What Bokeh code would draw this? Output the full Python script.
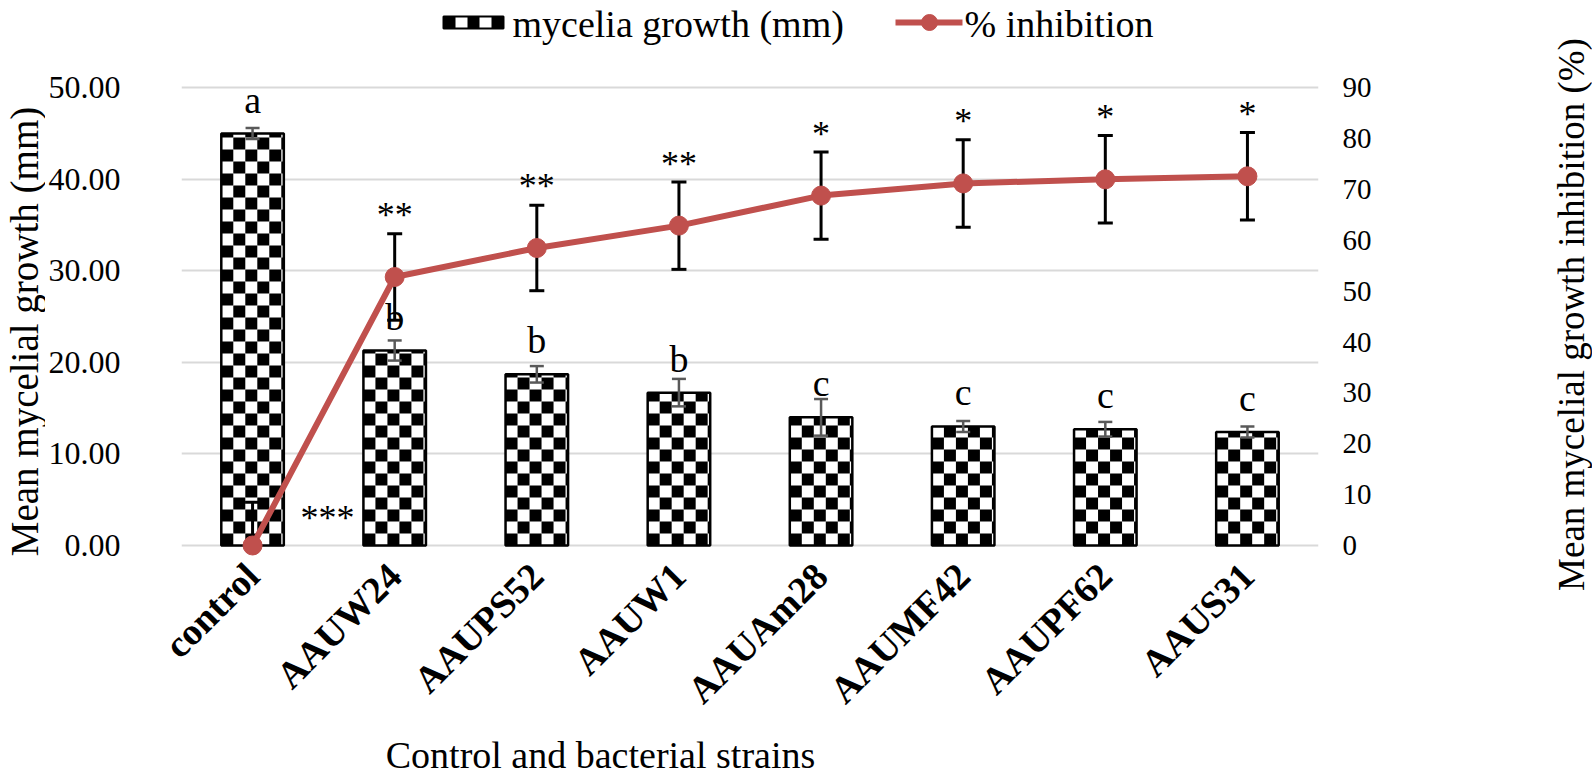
import math
import numpy as np
from bokeh.plotting import figure
from bokeh.layouts import row, column
from bokeh.models import (FactorRange, Range1d, LinearAxis, FixedTicker,
                          NumeralTickFormatter, ColumnDataSource)
from bokeh.embed import file_html
from bokeh.resources import INLINE
from bokeh.core.properties import value

# ---------------- data ----------------
strains = ["control", "AAUW24", "AAUPS52", "AAUW1", "AAUAm28", "AAUMF42", "AAUPF62", "AAUS31"]
growth_mm = [45.0, 21.3, 18.7, 16.7, 14.0, 13.0, 12.7, 12.4]
growth_err = [0.6, 1.1, 0.9, 1.5, 2.0, 0.6, 0.8, 0.6]
growth_letters = ["a", "b", "b", "b", "c", "c", "c", "c"]
inhibition_pct = [0.0, 52.8, 58.5, 62.9, 68.8, 71.2, 72.0, 72.6]
inhibition_err = [8.5, 8.5, 8.4, 8.6, 8.6, 8.6, 8.6, 8.6]
inhibition_marks = ["***", "**", "**", "**", "*", "*", "*", "*"]
left_ticks = [0, 10, 20, 30, 40, 50]
right_ticks = [0, 10, 20, 30, 40, 50, 60, 70, 80, 90]
legend_labels = ["mycelia growth (mm)", "% inhibition"]
x_title = "Control and bacterial strains"
left_title = "Mean mycelial growth (mm)"
right_title = "Mean mycelial growth inhibition (%)"

# ---------------- layout (page px; Bokeh page has no body margin) ----------------
FONT = "Liberation Serif"
RED = "#C0504D"
W, H = 1592, 776
RT_W, LT_W = 44, 45
ROW_H = 734
XT_H = H - ROW_H
LEFT_W = W - RT_W
MAIN_W = LEFT_W - LT_W
FL, FR, FT, FB = 181, 1318, 0, 557      # plot frame
FW = FR - FL
ZERO_Y = 545.0
PXU = (ZERO_Y - 87.3) / 50.0            # px per mm
RATIO = 1.8                              # right axis = 1.8 x left axis
Y_LO = (ZERO_Y - FB) / PXU
Y_HI = (ZERO_Y - FT) / PXU

def ts(size):
    # baseline compensation observed for alphabetic text
    return 0.316 * size

def dx(px):
    return (px - FL) / FW * len(strains)

def dy(py):
    return (ZERO_Y - py) / PXU

main = figure(x_range=FactorRange(factors=strains, range_padding=0),
              y_range=Range1d(Y_LO, Y_HI), width=MAIN_W, height=ROW_H, title=None,
              output_backend="svg", toolbar_location=None,
              min_border_left=FL - LT_W, min_border_right=LEFT_W - FR,
              min_border_top=FT, min_border_bottom=ROW_H - FB)
main.extra_y_ranges = {"pct": Range1d(Y_LO * RATIO, Y_HI * RATIO)}
main.outline_line_color = None
main.background_fill_color = "white"
main.border_fill_color = "white"

yl = main.yaxis[0]
yl.ticker = FixedTicker(ticks=left_ticks)
yl.formatter = NumeralTickFormatter(format="0.00")
ax_r = LinearAxis(y_range_name="pct", ticker=FixedTicker(ticks=right_ticks))
main.add_layout(ax_r, "right")
for ax in (yl, ax_r):
    ax.axis_line_color = None
    ax.major_tick_line_color = None
    ax.minor_tick_line_color = None
    ax.major_tick_out = 0
    ax.major_label_text_font = FONT
    ax.major_label_text_color = "black"
yl.major_label_text_font_size = "32px"
ax_r.major_label_text_font_size = "29px"
yl.major_label_standoff = 61
ax_r.major_label_standoff = 24

xa = main.xaxis[0]
xa.axis_line_color = None
xa.major_tick_line_color = None
xa.major_tick_out = 0
xa.major_label_orientation = math.pi / 4
xa.major_label_text_font = FONT
xa.major_label_text_font_size = "38px"
xa.major_label_text_font_style = "bold"
xa.major_label_text_color = "black"
xa.major_label_standoff = 12

main.xgrid.grid_line_color = None
main.ygrid.ticker = FixedTicker(ticks=left_ticks)
main.ygrid.grid_line_color = "#d9d9d9"
main.ygrid.grid_line_width = 2

src = ColumnDataSource(dict(
    strain=strains, growth=growth_mm,
    g_lo=[g - e for g, e in zip(growth_mm, growth_err)],
    g_hi=[g + e for g, e in zip(growth_mm, growth_err)],
    letter=growth_letters,
    inh=inhibition_pct,
    i_lo=[max(v - e, 0) for v, e in zip(inhibition_pct, inhibition_err)],
    i_hi=[v + e for v, e in zip(inhibition_pct, inhibition_err)],
    mark=inhibition_marks,
))

# ---- bars with checkerboard fill ----
BAR_W = 0.44
CELL = 12.0
cw = CELL / (FW / len(strains))
ch = CELL / PXU
main.vbar(x="strain", top="growth", bottom=0, width=BAR_W, source=src,
          fill_color="white", line_color=None)
cl, cr, cb, ct = [], [], [], []
for i, h in enumerate(growth_mm):
    x0 = i + 0.5 - BAR_W / 2
    x1 = x0 + BAR_W
    for j in range(int(np.ceil(BAR_W / cw))):
        for k in range(int(np.ceil(h / ch))):
            if (j + k) % 2 == 0:
                cl.append(x0 + j * cw)
                cr.append(min(x0 + (j + 1) * cw, x1))
                cb.append(k * ch)
                ct.append(min((k + 1) * ch, h))
main.quad(left=cl, right=cr, bottom=cb, top=ct, fill_color="black", line_color=None)
main.vbar(x="strain", top="growth", bottom=0, width=BAR_W, source=src,
          fill_color=None, line_color="black", line_width=2.5)

# bar error bars + letters
main.segment(x0="strain", y0="g_lo", x1="strain", y1="g_hi", source=src,
             line_color="#595959", line_width=2.5)
for col in ("g_lo", "g_hi"):
    main.scatter(x="strain", y=col, source=src, marker="dash", size=14,
                 line_color="#595959", line_width=2.5)
main.text(x="strain", y="growth", text="letter", source=src, y_offset=-22 - ts(38),
          text_align="center", text_baseline="alphabetic",
          text_font=value(FONT), text_font_size="38px", text_color="black")

# line error bars + line
main.segment(x0="strain", y0="i_lo", x1="strain", y1="i_hi", source=src,
             y_range_name="pct", line_color="black", line_width=3)
for col in ("i_lo", "i_hi"):
    main.scatter(x="strain", y=col, source=src, marker="dash", size=15,
                 y_range_name="pct", line_color="black", line_width=3)
main.line(x="strain", y="inh", source=src, y_range_name="pct",
          line_color=RED, line_width=6)
main.scatter(x="strain", y="inh", source=src, y_range_name="pct", size=19,
             fill_color=RED, line_color=RED)

src_m = ColumnDataSource(dict(strain=strains[1:], inh=inhibition_pct[1:],
                              mark=inhibition_marks[1:]))
main.text(x="strain", y="inh", text="mark", source=src_m, y_range_name="pct",
          y_offset=-62, text_align="center", text_baseline="alphabetic",
          text_font=value(FONT), text_font_size="36px", text_color="black")
main.text(x=[strains[0]], y=[inhibition_pct[0]], text=[inhibition_marks[0]],
          y_range_name="pct", x_offset=48, y_offset=-28, text_align="left",
          text_baseline="alphabetic", text_font=value(FONT),
          text_font_size="36px", text_color="black")

# ---- legend (inside frame, above the 50 gridline) ----
sw_l, sw_r, sw_t, sw_b = 443, 503, 16, 28
ncell = 5
cwid = (sw_r - sw_l) / ncell
blk = list(range(0, ncell, 2))
main.quad(left=[dx(sw_l + c * cwid) for c in blk], right=[dx(sw_l + (c + 1) * cwid) for c in blk],
          top=[dy(sw_t)] * len(blk), bottom=[dy(sw_b)] * len(blk),
          fill_color="black", line_color=None)
main.quad(left=[dx(sw_l)], right=[dx(sw_r)], top=[dy(sw_t)], bottom=[dy(sw_b)],
          fill_color=None, line_color="black", line_width=2)
main.line(x=[dx(895), dx(962)], y=[dy(22), dy(22)], line_color=RED, line_width=6)
main.scatter(x=[dx(929)], y=[dy(22)], size=16, fill_color=RED, line_color=RED)
main.text(x=[dx(512), dx(964)], y=[dy(36 - ts(38))] * 2, text=legend_labels,
          text_align="left", text_baseline="alphabetic", text_font=value(FONT),
          text_font_size="38px", text_color="black")


# ---------------- title strips ----------------
def strip(w, h, xr, yr, **borders):
    f = figure(width=w, height=h, x_range=Range1d(*xr), y_range=Range1d(*yr),
               output_backend="svg", toolbar_location=None, title=None,
               x_axis_location=None, y_axis_location=None,
               min_border_left=borders.get("left", 0), min_border_right=borders.get("right", 0),
               min_border_top=borders.get("top", 0), min_border_bottom=borders.get("bottom", 0))
    f.outline_line_color = None
    f.grid.visible = False
    f.background_fill_color = "white"
    f.border_fill_color = "white"
    return f

def tx(f, x, y, s, size, angle=0.0, align="center"):
    f.text(x=[x], y=[y], text=[s], angle=angle, text_align=align,
           text_baseline="alphabetic", text_font=value(FONT),
           text_font_size=f"{size}px", text_color="black")

# left title strip: frame matches main frame vertically (0..FB)
lt = strip(LT_W, ROW_H, (0, LT_W), (FB, FT), bottom=ROW_H - FB)
tx(lt, 36 - ts(39), 331, left_title, 39, angle=math.pi / 2)

# x title strip: frame matches main frame horizontally
xt = strip(LEFT_W, XT_H, (FL, FR), (H, ROW_H), left=FL, right=LEFT_W - FR)
tx(xt, 600, 767 - ts(38), x_title, 38)

# right title strip
rt = strip(RT_W, H, (LEFT_W, W), (H, 0))
tx(rt, 1583 - ts(37), 314, right_title, 37, angle=math.pi / 2)

layout = row(column(row(lt, main, spacing=0), xt, spacing=0), rt, spacing=0)

open("out.html", "w").write(file_html(layout, INLINE))
